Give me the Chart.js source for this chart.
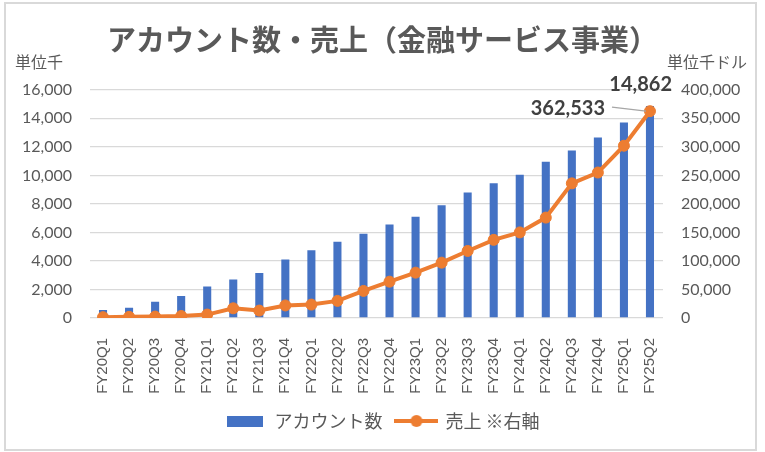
<!DOCTYPE html>
<html>
<head>
<meta charset="utf-8">
<script src="https://cdn.jsdelivr.net/npm/chart.js@4.4.1/dist/chart.umd.min.js"></script>
<style>
  html, body { margin: 0; padding: 0; background: #fff; }
  #wrap { width: 765px; height: 452px; }
</style>
</head>
<body>
<div id="wrap"><canvas id="salesChart" width="765" height="452"></canvas></div>
<script>
const categories = [
  "FY20Q1", "FY20Q2", "FY20Q3", "FY20Q4",
  "FY21Q1", "FY21Q2", "FY21Q3", "FY21Q4",
  "FY22Q1", "FY22Q2", "FY22Q3", "FY22Q4",
  "FY23Q1", "FY23Q2", "FY23Q3", "FY23Q4",
  "FY24Q1", "FY24Q2", "FY24Q3", "FY24Q4",
  "FY25Q1", "FY25Q2"
]
// アカウント数 (単位千)
const accounts = [560, 720, 1140, 1550, 2200, 2700, 3150, 4100, 4750, 5350, 5900,
  6550, 7100, 7900, 8800, 9450, 10050, 10950, 11750, 12650, 13700, 14862]
// 売上 (単位千ドル) ※右軸
const sales = [1500, 2000, 2500, 3500, 6000, 17000, 13000, 22000, 23500, 30000, 47500,
  63700, 79500, 97000, 117500, 137000, 150000, 176000, 236000, 255000, 302000, 362533]

const BLUE = "#4472C4"
const ORANGE = "#ED7D31"
const GREY_TEXT = "#595959"
const JP = "'Noto Sans CJK JP', 'Noto Sans', sans-serif"
const NUM = "Lato, 'Noto Sans', sans-serif"

const fmt = v => Number(v).toLocaleString("en-US")

// legend swatches
function barSwatch() {
  const c = document.createElement("canvas")
  c.width = 36; c.height = 11
  const g = c.getContext("2d")
  g.fillStyle = BLUE
  g.fillRect(0, 0, 36, 11)
  return c
}
function lineSwatch() {
  const c = document.createElement("canvas")
  c.width = 44; c.height = 14
  const g = c.getContext("2d")
  g.strokeStyle = ORANGE
  g.lineWidth = 4
  g.beginPath(); g.moveTo(0, 7); g.lineTo(44, 7); g.stroke()
  g.fillStyle = ORANGE
  g.beginPath(); g.arc(22, 7, 6, 0, Math.PI * 2); g.fill()
  return c
}

const frame = {
  id: "frame",
  beforeDraw(chart) {
    const { ctx } = chart
    ctx.save()
    ctx.fillStyle = "#fff"
    ctx.fillRect(0, 0, chart.width, chart.height)
    ctx.strokeStyle = "#d9d9d9"
    ctx.lineWidth = 2
    ctx.strokeRect(5, 3, 751, 447)
    ctx.restore()
  },
  afterDraw(chart) {
    const { ctx } = chart
    ctx.save()
    ctx.fillStyle = GREY_TEXT
    ctx.font = "16px " + JP
    ctx.textBaseline = "middle"
    ctx.textAlign = "left"
    ctx.fillText("単位千", 15, 62)
    ctx.fillText("単位千ドル", 667, 62)
    ctx.restore()
  }
}

const lastLabels = {
  id: "lastLabels",
  afterDatasetsDraw(chart) {
    const { ctx } = chart
    const bar = chart.getDatasetMeta(0).data[accounts.length - 1]
    const pt = chart.getDatasetMeta(1).data[sales.length - 1]
    ctx.save()
    ctx.fillStyle = "#404040"
    ctx.font = "bold 20px " + NUM
    ctx.textAlign = "right"
    ctx.textBaseline = "alphabetic"
    ctx.fillText(fmt(accounts[accounts.length - 1]), bar.x + 22, bar.y - 15)
    ctx.textBaseline = "middle"
    ctx.fillText(fmt(sales[sales.length - 1]), pt.x - 45, pt.y - 3)
    ctx.strokeStyle = "#a6a6a6"
    ctx.lineWidth = 1.2
    ctx.beginPath()
    ctx.moveTo(pt.x - 38, pt.y - 4)
    ctx.lineTo(pt.x - 4, pt.y)
    ctx.stroke()
    ctx.restore()
  }
}

const ctx = document.getElementById("salesChart").getContext("2d")
new Chart(ctx, {
  data: {
    labels: categories,
    datasets: [
      {
        type: "bar",
        label: "アカウント数",
        data: accounts,
        backgroundColor: BLUE,
        yAxisID: "y",
        categoryPercentage: 1,
        barPercentage: 0.31,
        order: 1,
      },
      {
        type: "line",
        label: "売上 ※右軸",
        data: sales,
        borderColor: ORANGE,
        backgroundColor: ORANGE,
        borderWidth: 4,
        pointRadius: 5.5,
        pointBorderWidth: 1,
        pointBackgroundColor: ORANGE,
        pointBorderColor: ORANGE,
        yAxisID: "y1",
        order: 0,
      },
    ],
  },
  options: {
    responsive: false,
    animation: false,
    layout: { padding: { left: 0, right: 0, top: 0, bottom: 12 } },
    plugins: {
      tooltip: { enabled: false },
      title: {
        display: true,
        text: "アカウント数・売上（金融サービス事業）",
        color: GREY_TEXT,
        font: { family: JP, size: 29, weight: "bold" },
        padding: { top: 23, bottom: 32 },
      },
      legend: {
        position: "bottom",
        labels: {
          usePointStyle: true,
          pointStyleWidth: 40,
          padding: 14,
          color: GREY_TEXT,
          font: { family: JP, size: 18 },
          generateLabels: () => [
            { text: "アカウント数", pointStyle: barSwatch(), fontColor: GREY_TEXT, datasetIndex: 0, lineWidth: 0 },
            { text: "売上 ※右軸", pointStyle: lineSwatch(), fontColor: GREY_TEXT, datasetIndex: 1, lineWidth: 0 },
          ],
        },
      },
    },
    scales: {
      x: {
        grid: { display: false },
        border: { display: false },
        ticks: {
          color: GREY_TEXT,
          font: { family: "'Liberation Sans', Arial, sans-serif", size: 15 },
          minRotation: 90,
          maxRotation: 90,
          padding: 12,
          autoSkip: false,
        },
        afterFit: s => { s.height = 80 },
      },
      y: {
        position: "left",
        min: 0,
        max: 16000,
        ticks: {
          stepSize: 2000,
          color: GREY_TEXT,
          font: { family: NUM, size: 16 },
          padding: 18,
          callback: v => fmt(v),
        },
        grid: { color: "#d9d9d9", lineWidth: 1.3, drawTicks: false },
        border: { display: false },
        afterFit: s => { s.width = 90 },
      },
      y1: {
        position: "right",
        min: 0,
        max: 400000,
        ticks: {
          stepSize: 50000,
          color: GREY_TEXT,
          font: { family: NUM, size: 16 },
          padding: 18,
          callback: v => fmt(v),
        },
        grid: { display: false, drawTicks: false },
        border: { display: false },
        afterFit: s => { s.width = 102 },
      },
    },
  },
  plugins: [frame, lastLabels],
})
</script>
</body>
</html>
